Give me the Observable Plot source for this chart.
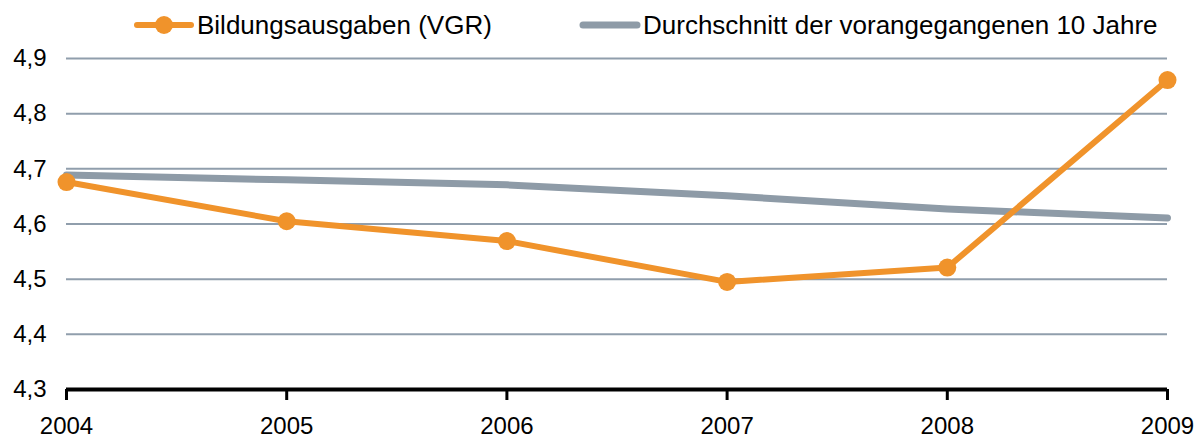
<!DOCTYPE html>
<html><head><meta charset="utf-8">
<script src="https://cdn.jsdelivr.net/npm/d3@7"></script>
<script src="https://cdn.jsdelivr.net/npm/@observablehq/plot@0.6"></script>
<style>
body{margin:0;background:#fff;font-family:"Liberation Sans",Arial,sans-serif;}
#legend{position:relative;height:36px;width:1201px;font-size:26px;color:#000;}
.item{position:absolute;top:7px;height:36px;display:flex;align-items:center;white-space:nowrap;}
svg{overflow:visible;}
</style></head><body>
<div id="legend"></div>
<div id="chart"></div>
<script>
const years = [2004, 2005, 2006, 2007, 2008, 2009];
const bildung = [4.676, 4.605, 4.569, 4.495, 4.521, 4.861];
const durchschnitt = [4.689, 4.680, 4.671, 4.651, 4.627, 4.611];
const seriesNames = ["Bildungsausgaben (VGR)", "Durchschnitt der vorangegangenen 10 Jahre"];
const yTicks = [4.3, 4.4, 4.5, 4.6, 4.7, 4.8, 4.9];
const orange = "#f0932b", gray = "#8e9ba7", grid = "#909eac";

const data1 = years.map((y, i) => ({year: y, value: bildung[i]}));
const data2 = years.map((y, i) => ({year: y, value: durchschnitt[i]}));

// legend
const lg = document.getElementById("legend");
lg.innerHTML = `
<div class="item" style="left:132px"><svg width="64" height="20"><line x1="5" x2="59" y1="10" y2="10" stroke="${orange}" stroke-width="6" stroke-linecap="round"/><circle cx="32" cy="10" r="9" fill="${orange}"/></svg><span style="margin-left:1px">${seriesNames[0]}</span></div>
<div class="item" style="left:578px"><svg width="64" height="20"><line x1="5" x2="59" y1="10" y2="10" stroke="${gray}" stroke-width="7" stroke-linecap="round"/></svg><span style="margin-left:1px">${seriesNames[1]}</span></div>`;

const fmtY = d => d.toFixed(1).replace(".", ",");
const chart = Plot.plot({
  width: 1201,
  height: 403,
  marginTop: 22,
  marginBottom: 50,
  marginLeft: 66,
  marginRight: 34,
  style: {fontFamily: '"Liberation Sans", Arial, sans-serif', fontSize: "24px", color: "#000", background: "#fff", overflow: "visible"},
  x: {domain: [2004, 2009], ticks: years, tickFormat: d => String(d), label: null},
  y: {domain: [4.3, 4.9], ticks: yTicks, tickFormat: fmtY, label: null},
  marks: [
    Plot.ruleY(yTicks.filter(t => t > 4.3), {stroke: grid, strokeWidth: 2}),
    Plot.axisY({ticks: yTicks, tickSize: 0, tickPadding: 20, tickFormat: fmtY, fontSize: 24, label: null}),
    Plot.axisX({ticks: years, tickSize: 11, tickPadding: 16, stroke: "#000", strokeWidth: 3, tickFormat: d => String(d), fontSize: 24, label: null}),
    Plot.ruleY([4.3], {stroke: "#000", strokeWidth: 4}),
    Plot.line(data2, {x: "year", y: "value", stroke: gray, strokeWidth: 7}),
    Plot.line(data1, {x: "year", y: "value", stroke: orange, strokeWidth: 6}),
    Plot.dot(data1, {x: "year", y: "value", r: 9, fill: orange})
  ]
});
document.getElementById("chart").appendChild(chart);
</script>
</body></html>
